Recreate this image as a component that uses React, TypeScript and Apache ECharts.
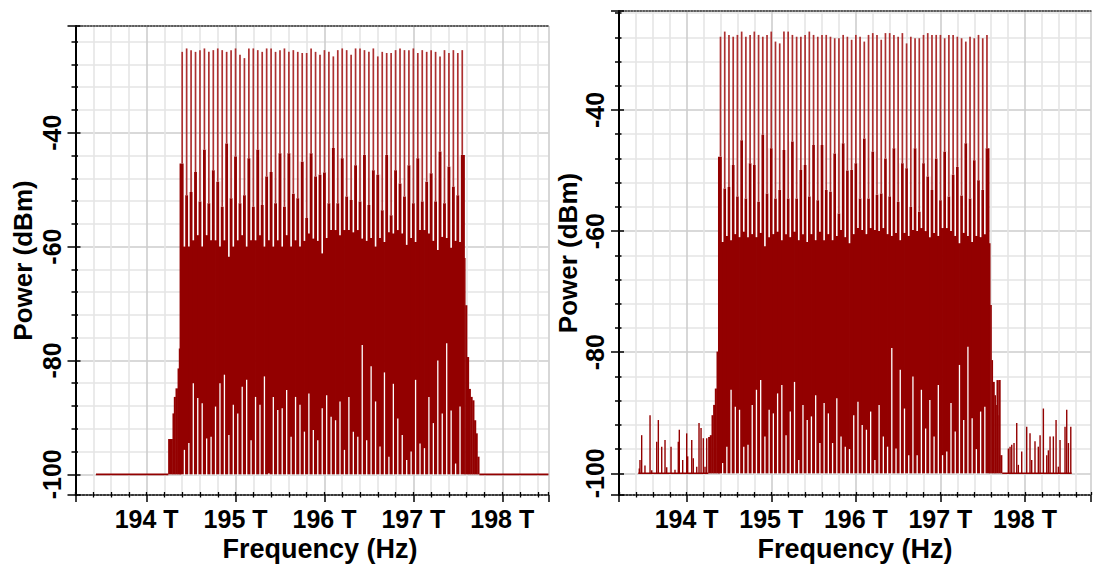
import React, { useEffect, useRef } from 'react';
import * as echarts from 'echarts';

// ---------------- data ----------------
// WDM channel centre frequencies (THz), 50 GHz grid
const CHANNEL_FREQ_THZ = [
  194.40, 194.45, 194.50, 194.55, 194.60, 194.65, 194.70, 194.75, 194.80, 194.85, 194.90, 194.95,
  195.00, 195.05, 195.10, 195.15, 195.20, 195.25, 195.30, 195.35, 195.40, 195.45, 195.50, 195.55,
  195.60, 195.65, 195.70, 195.75, 195.80, 195.85, 195.90, 195.95, 196.00, 196.05, 196.10, 196.15,
  196.20, 196.25, 196.30, 196.35, 196.40, 196.45, 196.50, 196.55, 196.60, 196.65, 196.70, 196.75,
  196.80, 196.85, 196.90, 196.95, 197.00, 197.05, 197.10, 197.15, 197.20, 197.25, 197.30, 197.35,
  197.40, 197.45, 197.50, 197.55,
];

const FLOOR_DBM = -100;

// ---- left panel ----
const LEFT_PEAK_DBM = [
  -25.8, -25.2, -25.5, -25.8, -25.5, -25.2, -25.8, -25.5, -25.2, -25.5,
  -25.8, -25.5, -25.2, -26.3, -26.9, -25.2, -25.2, -25.5, -25.8, -25.2,
  -25.2, -25.8, -25.5, -25.2, -25.8, -25.5, -25.8, -26.0, -26.0, -25.2,
  -25.8, -26.3, -25.5, -25.8, -26.6, -25.5, -25.2, -25.5, -26.3, -25.2,
  -25.2, -25.5, -25.8, -25.2, -26.6, -25.8, -26.0, -26.0, -25.5, -25.2,
  -25.5, -25.5, -25.2, -26.0, -25.5, -25.8, -25.5, -25.8, -26.6, -25.5,
  -26.0, -25.5, -26.0, -25.5,
];
const LEFT_SHOULDER_DBM = [
  -45.4, -51.0, -50.4, -46.9, -52.1, -43.0, -52.4, -46.6, -48.6, -53.0,
  -41.9, -51.5, -44.2, -52.4, -51.0, -44.5, -53.0, -43.0, -52.7, -47.7,
  -46.9, -52.4, -43.6, -53.0, -43.6, -50.7, -51.5, -45.1, -55.0, -43.6,
  -47.7, -47.4, -47.0, -52.4, -42.7, -52.4, -44.5, -51.2, -51.8, -45.7,
  -52.1, -43.9, -52.7, -46.6, -47.4, -53.6, -43.9, -54.5, -46.6, -48.9,
  -51.2, -45.7, -52.4, -44.5, -52.1, -48.6, -47.1, -52.1, -43.3, -52.4,
  -46.0, -49.5, -51.0, -43.9,
];
const LEFT_GAP_FLOOR_DBM = [
  -60, -60, -58.9, -58, -60, -58, -58.9, -58.9, -60, -58.9,
  -61.8, -60, -58.9, -58, -60, -58.9, -58.9, -58, -60, -58.9,
  -60, -58.9, -60, -58, -60, -58.9, -60, -59, -57.7, -58.6,
  -59, -61.2, -58.5, -57.1, -57.1, -58, -57.1, -57.1, -57.5, -57.1,
  -58.6, -59, -58.5, -60, -58.5, -59.2, -57.5, -57.7, -57.1, -57.7,
  -59.7, -58.5, -59.2, -57.1, -57.1, -57.7, -59, -60.6, -58.3, -58.5,
  -60.2, -59, -59.2,
];
const LEFT_NOTCH_DBM = [
  -95.7, -94.5, -84.0, -86.6, -87.5, -93.7, -93.4, -88.1, -84.0, -82.5,
  -93.1, -87.8, -89.3, -84.6, -83.4, -94.0, -86.4, -87.8, -82.8, -99.8,
  -86.4, -88.7, -88.4, -85.2, -93.4, -86.4, -87.8, -92.5, -85.8, -92.2,
  -94.0, -88.4, -86.1, -89.9, -90.5, -87.2, -95.7, -86.4, -92.5, -93.4,
  -77.3, -94.0, -81.0, -87.2, -95.1, -82.1, -96.9, -84.1, -90.2, -93.1,
  -97.5, -96.0, -83.4, -94.6, -95.4, -86.4, -91.0, -80.0, -89.3, -77.0,
  -88.8, -98.1, -88.1,
];
const LEFT_RAMP_IN = [
  [194.244, -93.8], [194.293, -89.3], [194.308, -86.4], [194.327, -84.9],
  [194.35, -81.4], [194.364, -77.9], [194.379, -70.3], [194.39, -100],
];
const LEFT_RAMP_OUT = [
  [197.575, -62], [197.585, -70.3], [197.605, -79.4], [197.625, -85.0], [197.645, -86.4],
  [197.665, -87.0], [197.685, -90.5], [197.705, -92.8], [197.722, -96.9], [197.742, -100],
];
const LEFT_BASELINE = [[193.43, 194.244], [197.742, 198.52]];
const LEFT_NOISE: number[][] = [];

// ---- right panel ----
const RIGHT_PEAK_DBM = [
  -27.9, -27.05, -27.6, -27.9, -27.6, -27.05, -27.9, -27.6, -27.05, -27.6,
  -27.9, -27.6, -27.05, -28.7, -29.0, -27.05, -27.05, -27.6, -27.9, -27.9,
  -27.6, -27.05, -27.6, -27.9, -27.6, -27.6, -27.9, -28.15, -28.15, -27.6,
  -27.9, -28.4, -27.6, -27.9, -28.7, -27.6, -27.3, -27.6, -28.4, -27.3,
  -27.3, -27.6, -27.9, -27.3, -29.0, -27.9, -28.15, -28.15, -27.6, -27.3,
  -27.6, -27.6, -27.6, -28.15, -27.6, -27.6, -27.9, -28.15, -28.7, -27.9,
  -28.15, -27.6, -28.15, -27.6,
];
const RIGHT_SHOULDER_DBM = [
  -47.7, -52.95, -52.7, -49.1, -54.3, -45.0, -54.6, -48.8, -49.1, -55.15,
  -44.1, -53.8, -46.3, -54.6, -53.2, -46.6, -54.6, -45.2, -54.6, -49.9,
  -49.1, -54.3, -45.8, -54.9, -45.8, -53.2, -53.5, -47.2, -57.1, -45.5,
  -50.0, -49.9, -48.8, -54.6, -44.7, -54.6, -46.9, -54.0, -53.8, -48.0,
  -54.3, -46.3, -55.15, -48.8, -49.6, -56.0, -46.3, -56.8, -48.8, -51.0,
  -53.2, -48.0, -54.9, -46.9, -54.3, -50.7, -49.4, -54.1, -45.5, -54.6,
  -48.3, -51.6, -53.2, -46.3,
];
const RIGHT_GAP_FLOOR_DBM = [
  -61.8, -60.8, -61.5, -60.5, -61.0, -60.1, -61.0, -60.5, -61.0, -60.3,
  -62.5, -61.0, -60.5, -60.1, -61.5, -60.5, -61.0, -60.1, -61.5, -60.5,
  -61.8, -60.5, -61.5, -60.1, -61.5, -60.5, -61.5, -60.8, -59.8, -61.0,
  -62.0, -60.5, -59.5, -59.8, -60.5, -59.5, -59.8, -60.0, -59.5, -60.5,
  -60.8, -60.3, -61.5, -60.3, -60.8, -59.8, -60.0, -59.5, -60.0, -61.0,
  -60.3, -60.8, -59.5, -59.5, -60.0, -60.8, -62.0, -60.3, -60.8, -61.8,
  -60.8, -61.0, -60.5,
];
const RIGHT_NOTCH_DBM = [
  -98.3, -95.6, -86.2, -89.0, -89.5, -95.6, -95.3, -88.7, -86.2, -84.6,
  -93.9, -89.5, -90.1, -86.8, -85.4, -93.7, -89.8, -84.9, -97.8, -88.7,
  -91.2, -90.6, -87.1, -95.0, -88.4, -90.1, -95.0, -87.6, -93.9, -95.6,
  -96.0, -90.4, -88.2, -92.0, -92.8, -89.8, -97.8, -88.7, -93.9, -95.6,
  -79.3, -95.9, -82.9, -89.3, -97.0, -84.0, -97.0, -86.2, -92.6, -87.9,
  -93.9, -85.4, -97.0, -96.4, -88.4, -93.1, -82.1, -91.2, -79.1, -90.9,
  -96.0, -89.8, -89.0,
];
const RIGHT_RAMP_IN = [
  [194.256, -94.0], [194.276, -93.7], [194.296, -90.4], [194.315, -88.7],
  [194.335, -86.0], [194.355, -79.9], [194.374, -71.9], [194.394, -100],
];
const RIGHT_RAMP_OUT = [
  [197.575, -62], [197.59, -72.2], [197.605, -81.3], [197.62, -84.9], [197.64, -87.1],
  [197.655, -88.7], [197.665, -84.6], [197.688, -90.4], [197.695, -84.6], [197.71, -97.0],
  [197.73, -100],
];
const RIGHT_BASELINE = [[193.428, 194.256], [197.73, 198.552]];
const RIGHT_NOISE = [
  [193.44, -99.2], [193.448, -97.8], [193.468, -93.7], [193.507, -98.7], [193.567, -90.4],
  [193.587, -99.5], [193.646, -94.8], [193.665, -91.2], [193.705, -95.6], [193.744, -94.5],
  [193.764, -99.0], [193.815, -95.6], [193.862, -99.4], [193.901, -94.8], [193.913, -92.8],
  [193.953, -97.8], [194.0, -93.4], [194.012, -97.2], [194.06, -94.5], [194.078, -97.5],
  [194.119, -98.9], [194.146, -91.7], [194.17, -92.5], [194.197, -94.2], [194.217, -98.9],
  [194.237, -94.2],
  [197.803, -95.9], [197.823, -95.6], [197.843, -95.3], [197.87, -95.0], [197.902, -91.7],
  [197.921, -98.6], [197.961, -96.4], [198.02, -92.3], [198.059, -93.4], [198.079, -97.8],
  [198.118, -94.7], [198.157, -95.6], [198.178, -93.7], [198.217, -89.3], [198.257, -97.0],
  [198.276, -96.2], [198.296, -93.9], [198.335, -93.9], [198.367, -91.2], [198.394, -98.9],
  [198.414, -94.5], [198.473, -92.3], [198.493, -89.5], [198.513, -95.0], [198.541, -92.3],
];

// ---------------- styling ----------------
const FONT = '"Liberation Sans", Arial, Helvetica, sans-serif';
const FILL = '#930000';
const SPIKE = '#ad3030';
const MAJOR_GRID = '#cdcdcd';
const MINOR_GRID = '#e5e5e5';

type PanelCfg = {
  grid: { left: number; top: number; width: number; height: number };
  xMin: number; xMax: number; yMin: number; yMax: number;
  peak: number[]; shoulder: number[]; gapFloor: number[]; notch: number[];
  rampIn: number[][]; rampOut: number[][]; baseline: number[][]; noise: number[][];
  xNameGap: number; xNamePad: number; yNameGap: number; yLabelMargin: number;
};

const PANELS: PanelCfg[] = [
  {
    grid: { left: 75.5, top: 26, width: 473, height: 469 },
    xMin: 193.2, xMax: 198.52, yMin: -103.63, yMax: -21.26,
    peak: LEFT_PEAK_DBM, shoulder: LEFT_SHOULDER_DBM, gapFloor: LEFT_GAP_FLOOR_DBM, notch: LEFT_NOTCH_DBM,
    rampIn: LEFT_RAMP_IN, rampOut: LEFT_RAMP_OUT, baseline: LEFT_BASELINE, noise: LEFT_NOISE,
    xNameGap: 39, xNamePad: 16, yNameGap: 40, yLabelMargin: 11,
  },
  {
    grid: { left: 619, top: 11, width: 472, height: 484 },
    xMin: 193.2, xMax: 198.78, yMin: -103.58, yMax: -23.65,
    peak: RIGHT_PEAK_DBM, shoulder: RIGHT_SHOULDER_DBM, gapFloor: RIGHT_GAP_FLOOR_DBM, notch: RIGHT_NOTCH_DBM,
    rampIn: RIGHT_RAMP_IN, rampOut: RIGHT_RAMP_OUT, baseline: RIGHT_BASELINE, noise: RIGHT_NOISE,
    xNameGap: 39, xNamePad: 0, yNameGap: 36, yLabelMargin: 12,
  },
];

const textBase = { color: '#000', fontWeight: 'bold' as const, fontFamily: FONT };

function buildOption() {
  const grids: any[] = [];
  const xAxes: any[] = [];
  const yAxes: any[] = [];
  const series: any[] = [];
  const half = (CHANNEL_FREQ_THZ[1] - CHANNEL_FREQ_THZ[0]) / 2;

  PANELS.forEach((p, gi) => {
    grids.push({ ...p.grid, containLabel: false, outerBoundsMode: 'none' });
    const xi = xAxes.length;
    const yi = yAxes.length;
    xAxes.push(
      {
        type: 'value', gridIndex: gi, position: 'bottom', min: p.xMin, max: p.xMax,
        axisLine: { show: true, onZero: false, lineStyle: { color: '#000', width: 1.6, type: [2, 1.5] } },
        axisTick: { show: true, inside: false, length: 7, lineStyle: { color: '#000', width: 1.5 } },
        minorTick: { show: true, splitNumber: 5, length: 2.5, lineStyle: { color: '#000', width: 1.3 } },
        axisLabel: {
          show: true, margin: 11, fontSize: 25, ...textBase,
          formatter: (v: number) => (Math.abs(v - Math.round(v)) < 1e-6 ? `${Math.round(v)} T` : ''),
        },
        splitLine: { show: true, lineStyle: { color: MAJOR_GRID, width: 1.6 } },
        minorSplitLine: { show: true, lineStyle: { color: MINOR_GRID, width: 1.6 } },
        name: 'Frequency (Hz)', nameLocation: 'middle', nameGap: p.xNameGap,
        nameTextStyle: { fontSize: 27, ...textBase, padding: [0, 0, 0, p.xNamePad] },
      },
      {
        type: 'value', gridIndex: gi, position: 'bottom', min: p.xMin, max: p.xMax,
        axisLine: { show: false, onZero: false },
        axisTick: { show: true, inside: true, length: 3, lineStyle: { color: '#000', width: 1.3 } },
        minorTick: { show: true, splitNumber: 5, length: 3, lineStyle: { color: '#000', width: 1.3 } },
        axisLabel: { show: false }, splitLine: { show: false },
      },
      {
        type: 'value', gridIndex: gi, position: 'top', min: p.xMin, max: p.xMax,
        axisLine: { show: true, onZero: false, lineStyle: { color: '#333', width: 1.5, type: [1.5, 1.5] } },
        axisTick: { show: false }, axisLabel: { show: false }, splitLine: { show: false },
      },
    );
    yAxes.push(
      {
        type: 'value', gridIndex: gi, position: 'left', min: p.yMin, max: p.yMax,
        axisLine: { show: true, onZero: false, lineStyle: { color: '#000', width: 2 } },
        axisTick: { show: true, inside: false, length: 8, lineStyle: { color: '#000', width: 1.5 } },
        minorTick: { show: true, splitNumber: 5, length: 4, lineStyle: { color: '#000', width: 1.5 } },
        axisLabel: {
          show: true, rotate: 90, margin: p.yLabelMargin, fontSize: 25, ...textBase,
          formatter: (v: number) => (Math.abs(v / 20 - Math.round(v / 20)) < 1e-6 ? `${Math.round(v)}` : ''),
        },
        splitLine: { show: true, lineStyle: { color: MAJOR_GRID, width: 1.6 } },
        minorSplitLine: { show: true, lineStyle: { color: MINOR_GRID, width: 1.6 } },
        name: 'Power (dBm)', nameLocation: 'middle', nameGap: p.yNameGap, nameRotate: 90,
        nameTextStyle: { fontSize: 26, ...textBase },
      },
      {
        type: 'value', gridIndex: gi, position: 'left', min: p.yMin, max: p.yMax,
        axisLine: { show: false, onZero: false },
        axisTick: { show: true, inside: true, length: 5, lineStyle: { color: '#000', width: 1.5 } },
        minorTick: { show: true, splitNumber: 5, length: 2.5, lineStyle: { color: '#000', width: 1.5 } },
        axisLabel: { show: false }, splitLine: { show: false },
      },
    );

    const common = { type: 'custom', xAxisIndex: xi, yAxisIndex: yi, silent: true, clip: false };

    // flat floor line outside the band
    series.push({
      ...common,
      data: p.baseline,
      renderItem: (_: any, api: any) => {
        const a = api.coord([api.value(0), FLOOR_DBM]);
        const b = api.coord([api.value(1), FLOOR_DBM]);
        return { type: 'line', shape: { x1: a[0], y1: a[1], x2: b[0], y2: b[1] }, style: { stroke: FILL, lineWidth: 1.6 } };
      },
    });

    // channel blocks
    series.push({
      ...common,
      data: CHANNEL_FREQ_THZ.map((f, i) => [f, p.shoulder[i]]),
      renderItem: (_: any, api: any) => {
        const f = api.value(0);
        const a = api.coord([f - half, api.value(1)]);
        const b = api.coord([f + half, FLOOR_DBM]);
        return { type: 'rect', shape: { x: a[0] - 0.4, y: a[1], width: b[0] - a[0] + 0.8, height: b[1] - a[1] }, style: { fill: FILL } };
      },
    });

    // spectral edges (step areas)
    [p.rampIn, p.rampOut].forEach((ramp) => {
      series.push({
        ...common,
        data: ramp,
        renderItem: (params: any, api: any) => {
          const i = params.dataIndex;
          if (i >= ramp.length - 1) return null;
          const a = api.coord([api.value(0), api.value(1)]);
          const b = api.coord([ramp[i + 1][0], FLOOR_DBM]);
          return { type: 'rect', shape: { x: a[0] - 0.2, y: a[1], width: b[0] - a[0] + 0.4, height: b[1] - a[1] }, style: { fill: FILL } };
        },
      });
    });

    // white gaps between channels (upper part)
    series.push({
      ...common,
      data: p.gapFloor.map((v, i) => [
        (CHANNEL_FREQ_THZ[i] + CHANNEL_FREQ_THZ[i + 1]) / 2, v, Math.max(p.shoulder[i], p.shoulder[i + 1]),
      ]),
      renderItem: (_: any, api: any) => {
        const a = api.coord([api.value(0), api.value(2)]);
        const b = api.coord([api.value(0), api.value(1)]);
        return { type: 'line', shape: { x1: a[0], y1: a[1] - 0.5, x2: b[0], y2: b[1] }, style: { stroke: '#fff', lineWidth: 1.6 } };
      },
    });

    // white notches from the floor (lower part)
    series.push({
      ...common,
      data: p.notch.map((v, i) => [(CHANNEL_FREQ_THZ[i] + CHANNEL_FREQ_THZ[i + 1]) / 2, v]),
      renderItem: (_: any, api: any) => {
        const a = api.coord([api.value(0), FLOOR_DBM]);
        const b = api.coord([api.value(0), api.value(1)]);
        return { type: 'line', shape: { x1: a[0], y1: a[1] + 0.8, x2: b[0], y2: b[1] }, style: { stroke: '#fff', lineWidth: 1.3 } };
      },
    });

    // channel peaks
    series.push({
      ...common,
      data: CHANNEL_FREQ_THZ.map((f, i) => [f, p.peak[i], p.shoulder[i]]),
      renderItem: (_: any, api: any) => {
        const a = api.coord([api.value(0), api.value(2)]);
        const b = api.coord([api.value(0), api.value(1)]);
        return { type: 'line', shape: { x1: a[0], y1: a[1], x2: b[0], y2: b[1] }, style: { stroke: SPIKE, lineWidth: 1.7 } };
      },
    });

    // out-of-band noise spikes
    if (p.noise.length) {
      series.push({
        ...common,
        data: p.noise,
        renderItem: (_: any, api: any) => {
          const a = api.coord([api.value(0), FLOOR_DBM]);
          const b = api.coord([api.value(0), api.value(1)]);
          return { type: 'line', shape: { x1: a[0], y1: a[1], x2: b[0], y2: b[1] }, style: { stroke: FILL, lineWidth: 1.4 } };
        },
      });
    }
  });

  return {
    animation: false,
    backgroundColor: '#fff',
    grid: grids,
    xAxis: xAxes,
    yAxis: yAxes,
    series,
  };
}

export default function App() {
  const ref = useRef<HTMLDivElement>(null);
  useEffect(() => {
    if (!ref.current) return;
    const chart = echarts.init(ref.current, null, { renderer: 'svg', width: 1097, height: 565 });
    chart.setOption(buildOption() as any);
    return () => chart.dispose();
  }, []);
  return (
    <div
      ref={ref}
      style={{ position: 'fixed', left: 0, top: 0, width: 1097, height: 565, background: '#fff' }}
    />
  );
}
